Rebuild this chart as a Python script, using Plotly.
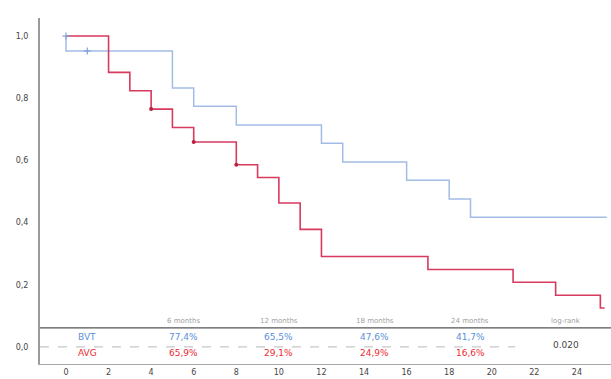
import plotly.graph_objects as go

# Kaplan-Meier step data (months, survival probability)
bvt_time = [0, 0, 5, 6, 8, 12, 13, 16, 18, 19, 25.4]
bvt_surv = [1.0, 0.952, 0.833, 0.774, 0.714, 0.655, 0.595, 0.536, 0.476, 0.417, 0.417]
bvt_censor_time = [0, 1]
bvt_censor_surv = [1.0, 0.952]

avg_time = [0, 2, 3, 4, 5, 6, 8, 9, 10, 11, 12, 17, 21, 23, 25.1, 25.3]
avg_surv = [1.0, 0.883, 0.824, 0.765, 0.706, 0.659, 0.586, 0.545, 0.463, 0.378, 0.291,
            0.249, 0.208, 0.166, 0.125, 0.125]
avg_censor_time = [4, 6, 8]
avg_censor_surv = [0.765, 0.659, 0.586]

# Survival table
table_headers = ["6 months", "12 months", "18 months", "24 months"]
table_cols = [5.5, 10.0, 14.5, 19.0]
bvt_rates = ["77,4%", "65,5%", "47,6%", "41,7%"]
avg_rates = ["65,9%", "29,1%", "24,9%", "16,6%"]
p_label = "log-rank"
p_value = "0.020"

x_ticks = list(range(0, 25, 2))
y_ticks = [0.0, 0.2, 0.4, 0.6, 0.8, 1.0]

BLUE_LINE = "#a3bce6"
RED_LINE = "#d8395f"
BLUE_TXT = "#5a90da"
RED_TXT = "#ec2a2e"

fig = go.Figure()

fig.add_trace(go.Scatter(x=bvt_time, y=bvt_surv, mode="lines", line_shape="hv",
                         line=dict(color=BLUE_LINE, width=1.5), hoverinfo="skip"))
fig.add_trace(go.Scatter(x=avg_time, y=avg_surv, mode="lines", line_shape="hv",
                         line=dict(color=RED_LINE, width=1.6), hoverinfo="skip"))
fig.add_trace(go.Scatter(x=bvt_censor_time, y=bvt_censor_surv, mode="markers",
                         marker=dict(symbol="cross-thin", size=5,
                                     line=dict(color="#7fa3dc", width=1.2))))
fig.add_trace(go.Scatter(x=avg_censor_time, y=avg_censor_surv, mode="markers",
                         marker=dict(symbol="circle", size=4, color="#b8203e")))

# dashed zero reference across the table
fig.add_shape(type="line", x0=-1.22, x1=21.1, y0=0, y1=0, xref="x", yref="y",
              line=dict(color="#b8b8b8", width=1, dash="dash"))
# table top rule
fig.add_shape(type="line", x0=0, x1=1, y0=0.061, y1=0.061, xref="paper", yref="y",
              line=dict(color="#555555", width=1.2))

ann = []
for col, head, b, a in zip(table_cols, table_headers, bvt_rates, avg_rates):
    ann.append(dict(x=col, y=0.084, text=head, font=dict(size=7, color="#a0a0a0")))
    ann.append(dict(x=col, y=0.032, text=b, font=dict(size=9, color=BLUE_TXT)))
    ann.append(dict(x=col, y=-0.019, text=a, font=dict(size=9, color=RED_TXT)))
ann.append(dict(x=1.0, y=0.032, text="BVT", font=dict(size=9, color=BLUE_TXT)))
ann.append(dict(x=1.0, y=-0.019, text="AVG", font=dict(size=9, color=RED_TXT)))
ann.append(dict(x=23.5, y=0.084, text=p_label, font=dict(size=7, color="#a0a0a0")))
ann.append(dict(x=23.5, y=0.006, text=p_value, font=dict(size=9, color="#444444")))
for a in ann:
    a.update(xref="x", yref="y", showarrow=False, xanchor="center", yanchor="middle")
    a["font"]["family"] = "DejaVu Sans"

fig.update_layout(
    width=611, height=379,
    margin=dict(l=40, r=0, t=18, b=15),
    paper_bgcolor="white", plot_bgcolor="white",
    showlegend=False,
    separators=",.",
    font=dict(family="DejaVu Sans", size=8, color="#444444"),
    annotations=ann,
    xaxis=dict(range=[-1.22, 25.6], tickvals=x_ticks, showgrid=False, zeroline=False,
               showline=True, linecolor="#a8a8a8", linewidth=1, ticks="",
               tickfont=dict(size=8, color="#444444")),
    yaxis=dict(range=[-0.055, 1.058], tickvals=y_ticks, tickformat=".1f",
               showgrid=False, zeroline=False, showline=True, linecolor="#9a9a9a",
               linewidth=2, ticks="", ticklabelstandoff=8,
               tickfont=dict(size=8, color="#444444")),
)

fig.write_html("out.html")
